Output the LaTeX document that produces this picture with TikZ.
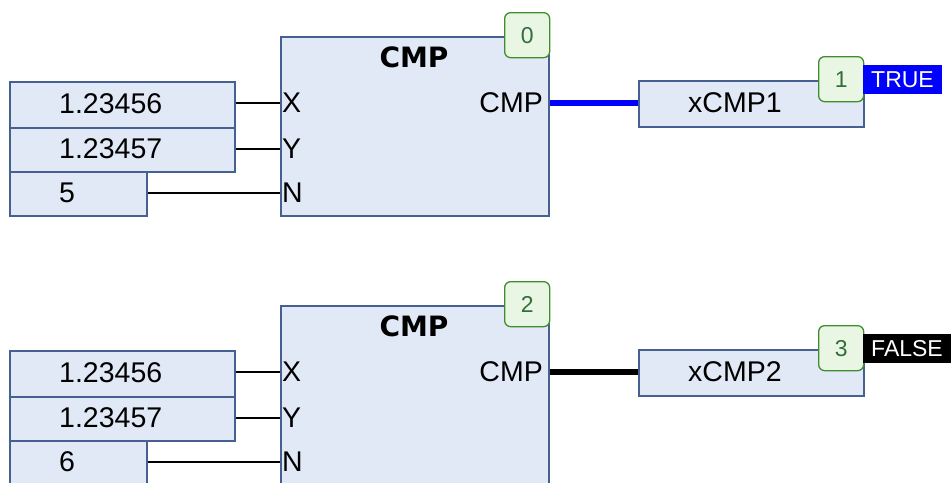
\documentclass[tikz,border=0pt]{standalone}
\usepackage{fontspec}
\setmainfont{Liberation Sans}
\newfontfamily\titlefont{DejaVu Sans}
\definecolor{boxfill}{RGB}{225,233,246}
\definecolor{boxline}{RGB}{70,96,145}
\definecolor{badgefill}{RGB}{234,246,228}
\definecolor{badgeline}{RGB}{62,142,46}
\definecolor{badgetext}{RGB}{50,110,60}
\definecolor{truebl}{RGB}{0,0,255}
\tikzset{
  fbox/.style={draw=boxline, fill=boxfill, line width=1.5pt, inner sep=0pt, anchor=north west},
  txt/.style={inner sep=0pt, font=\fontsize{28.5}{28.5}\selectfont},
  ttl/.style={inner sep=0pt, font=\titlefont\bfseries\fontsize{28}{28}\selectfont},
  badge/.style={draw=badgeline, fill=badgefill, line width=1.3pt, rounded corners=6pt, inner sep=0pt,
    minimum width=45pt, minimum height=45pt, anchor=north west, text=badgetext,
    font=\fontsize{23}{23}\selectfont},
  statebox/.style={inner sep=0pt, minimum height=29pt, anchor=north west, text=white,
    font=\fontsize{23}{23}\selectfont},
  wire/.style={draw=black, line width=1.5pt},
  outwire/.style={line width=6pt},
}
\newcommand{\cmpblock}[8]{%
  % #1 y offset, #2 suffix, #3 N value, #4 var name, #5 badge a, #6 badge b, #7 state text, #8 state fill
  \begin{scope}[yshift=-#1pt]
    \node[fbox, minimum width=225pt, minimum height=46pt] (inX#2) at (9,81) {};
    \node[fbox, minimum width=225pt, minimum height=44pt] (inY#2) at (9,127) {};
    \node[fbox, minimum width=137pt, minimum height=44pt] (inN#2) at (9,171) {};
    \node[txt, anchor=west] (tX#2) at (59,104) {1.23456};
    \node[txt, anchor=west] (tY#2) at (59,149) {1.23457};
    \node[txt, anchor=west] (tN#2) at (59,193) {#3};
    \node[fbox, minimum width=268pt, minimum height=179pt] (fb#2) at (280,36) {};
    \node[ttl] (title#2) at (414,57) {CMP};
    \node[txt, anchor=west] (pX#2) at (282,103) {X};
    \node[txt, anchor=west] (pY#2) at (282,149) {Y};
    \node[txt, anchor=west] (pN#2) at (282,193) {N};
    \node[txt, anchor=east] (pO#2) at (543,103) {CMP};
    \node[badge] (ba#2) at (504,12) {#5};
    \node[fbox, minimum width=225pt, minimum height=46pt] (xb#2) at (638,80) {};
    \node[txt, anchor=west] (xt#2) at (688,103) {#4};
    \node[badge] (bb#2) at (818,56) {#6};
    \node[statebox, fill=#8, inner xsep=8pt] (st#2) at (863,65) {#7};
    \draw[wire] (inX#2.east |- pX#2) -- (fb#2.west |- pX#2);
    \draw[wire] (inY#2.east |- pY#2) -- (fb#2.west |- pY#2);
    \draw[wire] (inN#2.east |- pN#2) -- (fb#2.west |- pN#2);
    \draw[outwire, draw=#8] (fb#2.east |- pO#2) -- (xb#2.west |- pO#2);
  \end{scope}}
\begin{document}
\begin{tikzpicture}[x=1pt,y=-1pt]
\useasboundingbox (0,0) rectangle (952,482);
\begin{scope}
\clip (0,0) rectangle (952,482);
\cmpblock{0}{a}{5}{xCMP1}{0}{1}{TRUE}{truebl}
\cmpblock{269}{b}{6}{xCMP2}{2}{3}{FALSE}{black}
\end{scope}
\end{tikzpicture}
\end{document}
